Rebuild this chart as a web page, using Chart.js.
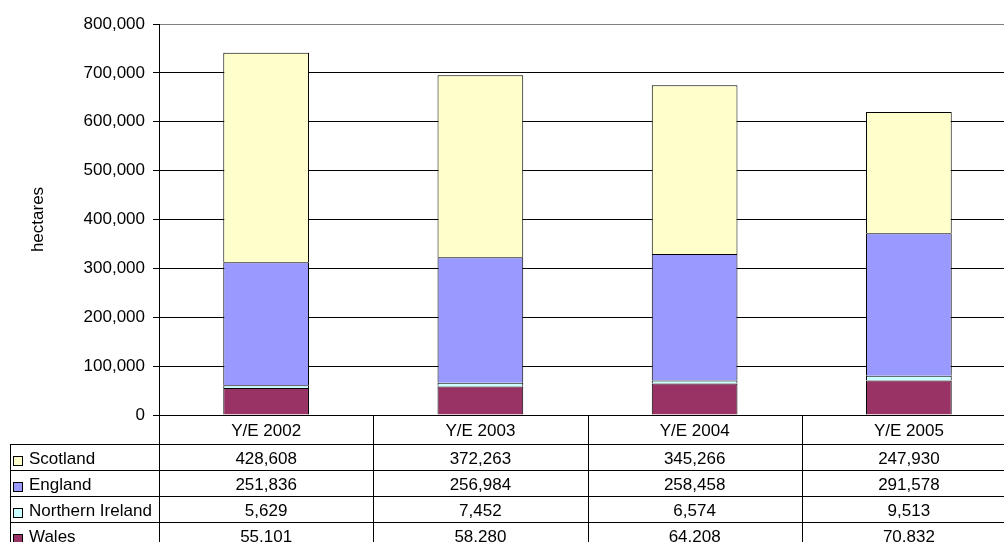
<!DOCTYPE html>
<html>
<head>
<meta charset="utf-8">
<script src="https://cdn.jsdelivr.net/npm/chart.js@4/dist/chart.umd.min.js"></script>
<style>
  html, body { margin: 0; padding: 0; background: #fff; overflow: hidden; }
  #wrap { position: relative; width: 1030px; height: 560px; }
</style>
</head>
<body>
<div id="wrap"><canvas id="chart"></canvas></div>
<script>
const categories = ['Y/E 2002', 'Y/E 2003', 'Y/E 2004', 'Y/E 2005'];
const seriesNames = ['Scotland', 'England', 'Northern Ireland', 'Wales'];
const scotland = [428608, 372263, 345266, 247930];
const england = [251836, 256984, 258458, 291578];
const northernIreland = [5629, 7452, 6574, 9513];
const wales = [55101, 58280, 64208, 70832];
const colors = ['#FFFFCC', '#9999FF', '#CCFFFF', '#993366'];

const FONT = '"Liberation Sans", Arial, sans-serif';
const FS = 17;

// data table under the plot, drawn from the x scale
const tablePlugin = {
  id: 'dataTable',
  afterDraw(chart) {
    const ctx = chart.ctx;
    const x = chart.scales.x;
    const area = chart.chartArea;
    const half = (x.getPixelForValue(1) - x.getPixelForValue(0)) / 2;
    const tableLeft = 10;
    const headerBottom = area.bottom + 29;
    const rowH = 26;
    const rows = [scotland, england, northernIreland, wales];
    const bottom = headerBottom + rowH * rows.length;

    ctx.save();
    ctx.strokeStyle = '#000';
    ctx.lineWidth = 1;
    ctx.beginPath();
    for (let r = 0; r <= rows.length; r++) {
      const y = Math.round(headerBottom + r * rowH) + 0.5;
      ctx.moveTo(tableLeft, y);
      ctx.lineTo(area.right, y);
    }
    ctx.moveTo(tableLeft + 0.5, headerBottom);
    ctx.lineTo(tableLeft + 0.5, bottom);
    for (let i = 0; i <= categories.length; i++) {
      const cx = Math.round(x.getPixelForValue(i) - half) + 0.5;
      ctx.moveTo(cx, area.bottom);
      ctx.lineTo(cx, bottom);
    }
    ctx.stroke();

    ctx.fillStyle = '#000';
    ctx.font = FS + 'px ' + FONT;
    ctx.textAlign = 'center';
    ctx.textBaseline = 'middle';
    categories.forEach((c, i) => {
      ctx.fillText(c, x.getPixelForValue(i), area.bottom + 16);
    });
    rows.forEach((vals, r) => {
      const cy = headerBottom + r * rowH + 15;
      vals.forEach((v, i) => {
        ctx.fillText(v.toLocaleString('en-US'), x.getPixelForValue(i), cy);
      });
      // legend key + name
      ctx.fillStyle = colors[r];
      ctx.fillRect(13, cy - 3, 9, 9);
      ctx.strokeRect(13.5, cy - 2.5, 9, 9);
      ctx.fillStyle = '#000';
      ctx.textAlign = 'left';
      ctx.fillText(seriesNames[r], 29, cy);
      ctx.textAlign = 'center';
    });
    ctx.restore();
  }
};

const datasets = [
  { label: 'Wales', data: wales, backgroundColor: colors[3] },
  { label: 'Northern Ireland', data: northernIreland, backgroundColor: colors[2] },
  { label: 'England', data: england, backgroundColor: colors[1] },
  { label: 'Scotland', data: scotland, backgroundColor: colors[0] }
].map(d => ({
  ...d,
  borderColor: '#000',
  borderWidth: 1,
  barPercentage: 0.4,
  categoryPercentage: 1.0
}));

new Chart(document.getElementById('chart'), {
  type: 'bar',
  data: { labels: categories, datasets },
  plugins: [tablePlugin],
  options: {
    responsive: true,
    maintainAspectRatio: false,
    animation: false,
    layout: { padding: { top: 24, right: 14, bottom: 145, left: 0 } },
    plugins: {
      legend: { display: false },
      tooltip: { enabled: false }
    },
    scales: {
      x: {
        stacked: true,
        display: false
      },
      y: {
        stacked: true,
        min: 0,
        max: 800000,
        afterFit: s => { s.width = 159; },
        ticks: {
          stepSize: 100000,
          color: '#000',
          padding: 8,
          font: { family: FONT, size: FS },
          callback: v => v.toLocaleString('en-US')
        },
        grid: {
          color: c => c.tick && c.tick.value === 800000 ? '#808080' : '#000',
          tickColor: '#000',
          tickLength: 6,
          lineWidth: 1
        },
        border: { color: '#000', width: 1 },
        title: {
          display: true,
          text: 'hectares',
          color: '#000',
          padding: { top: 28, bottom: 0 },
          font: { family: FONT, size: FS }
        }
      }
    }
  }
});
</script>
</body>
</html>
